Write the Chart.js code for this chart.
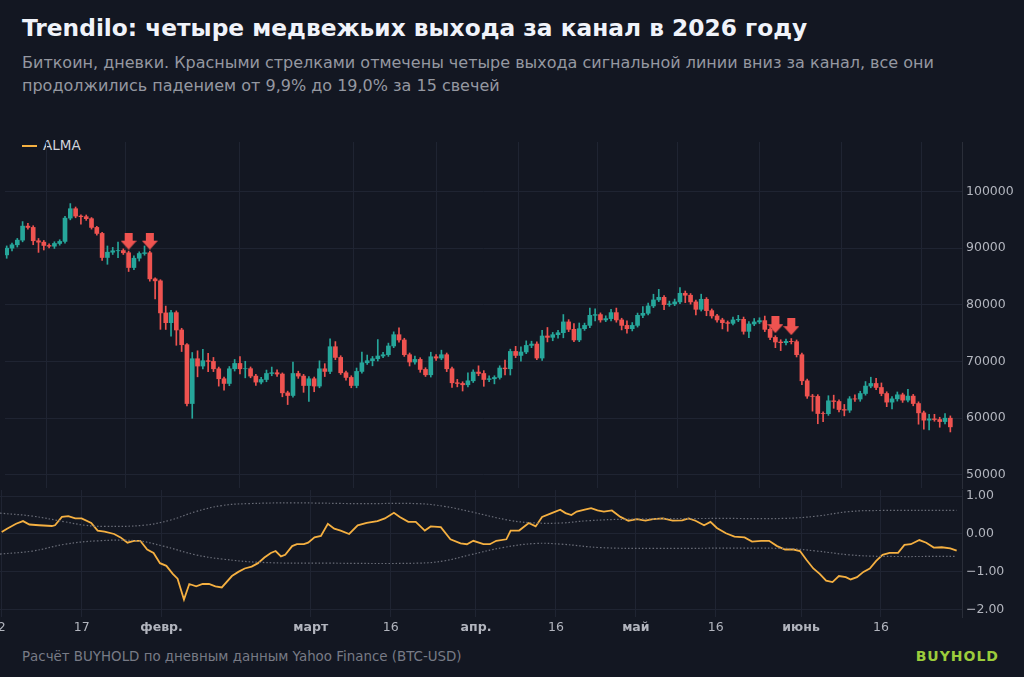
<!DOCTYPE html>
<html><head><meta charset="utf-8">
<script src="https://cdn.jsdelivr.net/npm/chart.js@4.4.1/dist/chart.umd.min.js"></script>
<style>
html,body{margin:0;padding:0;background:#131722;width:1024px;height:677px;overflow:hidden;font-family:"DejaVu Sans",sans-serif;}
#title{position:absolute;left:22px;top:14px;color:#f0f3fa;font-size:23.3px;font-weight:bold;}
#sub{position:absolute;left:22px;top:51px;color:#9598a1;font-size:16px;line-height:23px;width:995px;}
#legend{position:absolute;left:22px;top:137px;color:#d1d4dc;font-size:13.5px;}
#legend span{display:inline-block;width:15px;height:2px;background:#f5b041;vertical-align:middle;margin-right:6px;}
#foot{position:absolute;left:22px;top:649px;color:#787b86;font-size:13.4px;}
#brand{position:absolute;right:25px;top:648px;color:#9ccc3c;font-size:14px;font-weight:bold;letter-spacing:1px;}
canvas{position:absolute;left:0;}
</style></head><body>
<div id="title">Trendilo: четыре медвежьих выхода за канал в 2026 году</div>
<div id="sub">Биткоин, дневки. Красными стрелками отмечены четыре выхода сигнальной линии вниз за канал, все они продолжились падением от 9,9% до 19,0% за 15 свечей</div>
<div id="legend"><span></span>ALMA</div>
<div style="position:absolute;left:0;top:137px;width:1024px;height:356px"><canvas id="c1"></canvas></div>
<div style="position:absolute;left:0;top:490px;width:1024px;height:148px"><canvas id="c2"></canvas></div>
<div id="foot">Расчёт BUYHOLD по дневным данным Yahoo Finance (BTC-USD)</div>
<div id="brand">BUYHOLD</div>
<script>
// candle index 1 = 2 Jan 2026
const firstOpen = 88800;
const closes = [
89980,90580,91400,93870,93640,91290,91040,90460,90330,90810,
91170,95280,96940,95640,95530,95180,93640,92580,88340,89270,
89520,89560,89170,86570,88210,89040,89170,84570,84220,78570,
76850,78620,75560,72960,62590,70490,69200,70140,70020,68720,
66960,66130,68720,69660,68720,68740,67430,66370,66830,67890,
68020,67790,64480,64010,67890,67430,65770,66960,65670,68720,
68250,72610,70720,68020,67190,65770,68250,69780,70140,70490,
70970,71200,72740,74730,73800,71200,69910,70370,68600,67660,
70840,70610,71200,68720,66250,66130,65900,66600,68140,67890,
66830,66960,67190,68850,68720,71780,71070,71680,72840,73080,
70610,74500,74260,74730,75080,76980,75670,73800,75790,76370,
78140,78270,77330,77560,78620,77330,76370,75790,76370,78140,
78500,79800,80860,81320,80030,80150,80510,82030,81680,80510,
79200,80970,78970,78040,77330,76850,76730,77330,77440,75320,
76620,76980,77210,75670,74250,73440,73320,73550,73500,71200,
66600,63900,63850,60830,60800,63070,62950,61530,61420,63420,
63380,64360,65670,66130,65420,64360,62840,63420,64130,63190,
63900,62590,60950,59660,59890,59770,59410,60010,58480];
// wick lengths above / below the body, in hundreds of USD
const wickUp = [
4,3,3,8,5,3,4,3,3,3, 3,3,9,3,2,3,2,2,2,11, 6,15,3,3,4,3,12,3,2,2,
12,4,3,3,2,11,14,20,13,7, 3,3,4,7,12,13,3,3,4,6, 10,5,2,3,20,4,3,4,3,14,
9,14,9,3,3,3,6,19,10,4, 29,4,5,5,12,3,3,6,3,3, 8,4,8,3,3,6,3,14,4,11,
5,5,3,4,14,4,9,9,8,5, 4,10,15,4,4,13,4,10,10,4, 13,10,3,5,6,8,3,8,5,4,
12,5,10,14,3,5,5,10,4,3, 3,9,3,3,3,3,3,5,7,4, 4,6,5,8,3,3,4,4,5,3,
3,3,3,3,3,9,10,3,9,4, 7,4,8,11,9,8,3,4,5,3, 12,3,3,3,8,8,4,8,4];
const wickDn = [
6,5,4,3,3,7,18,8,3,4, 3,3,3,3,13,3,3,3,5,12, 4,12,3,7,4,5,3,4,32,29,
12,24,27,12,4,26,19,5,18,5, 13,12,4,4,9,16,3,6,3,4, 4,4,7,16,3,4,12,28,10,3,
9,4,4,3,5,4,4,3,3,9, 4,3,3,3,4,3,7,4,5,3, 4,4,3,5,8,6,11,4,3,4,
12,4,9,3,11,11,4,10,3,4, 3,4,8,6,6,9,4,3,3,3, 4,10,4,3,4,4,8,8,4,3,
4,3,3,3,9,3,3,3,13,4, 10,3,9,4,4,11,14,3,3,5, 11,3,3,4,4,10,14,4,4,4,
7,4,26,18,14,3,12,4,10,4, 4,4,3,3,4,4,8,12,4,4, 3,4,20,16,17,3,10,4,9];
const arrowIdx = [24, 28, 146, 149];
const arrowPrice = [91220, 91220, 76500, 76150];

const almaX = [1,2,3.7,5,6.2,8,10.4,11,12.3,13.5,14.8,16,17.8,19,20.3,22.1,23.3,24.6,25.8,27,28.3,29.5,30.7,31.9,33.1,34,35.2,36.2,37.5,38.7,39.9,41.1,42.3,44.2,45.4,46.6,47.9,49.1,50.3,51.5,52.4,53.4,54.2,55.5,56.4,57.7,58.5,59.7,60.9,62.2,63.4,64.6,66.2,67.8,69.5,71.5,72.9,74.6,75.7,77.3,78.7,80.4,81.5,83.4,85.2,87.1,88.3,89.5,91.4,92.6,93.8,95.7,96.5,98.1,99.9,101.2,102.4,104.2,105.8,106.8,107.9,108.9,110.4,111.6,112.8,114,115.5,117.1,118.6,120.2,121.8,123.2,125.1,126.9,128.7,129.9,131.2,132.8,134,135.2,136.9,138.5,140.4,141.8,143.5,145,146.5,148,149.6,150.8,152,153.3,154.5,155.7,156.9,158.1,159.4,160.3,161.5,162.7,163.9,165.1,166.3,167.6,169.2,170.4,171.6,173.2,174.5,175.9,177.4,179,180.2];
const almaY = [0.05,0.14,0.27,0.34,0.25,0.23,0.21,0.23,0.45,0.47,0.41,0.41,0.29,0.09,0.06,0,-0.09,-0.23,-0.18,-0.18,-0.41,-0.5,-0.77,-0.84,-1.05,-1.18,-1.73,-1.32,-1.38,-1.32,-1.32,-1.38,-1.41,-1.11,-1.0,-0.91,-0.86,-0.77,-0.62,-0.5,-0.45,-0.59,-0.55,-0.32,-0.27,-0.27,-0.23,-0.09,-0.05,0.27,0.14,0.09,0,0.23,0.29,0.34,0.41,0.56,0.45,0.32,0.32,0.09,0.2,0.18,-0.14,-0.25,-0.27,-0.18,-0.27,-0.27,-0.18,-0.14,0.09,0.09,0.29,0.2,0.45,0.55,0.64,0.55,0.5,0.59,0.64,0.68,0.62,0.59,0.62,0.45,0.35,0.39,0.35,0.39,0.41,0.35,0.36,0.41,0.35,0.23,0.32,0.16,0.02,-0.07,-0.09,-0.2,-0.18,-0.18,-0.32,-0.41,-0.41,-0.45,-0.68,-0.91,-1.05,-1.23,-1.27,-1.11,-1.14,-1.2,-1.14,-1.0,-0.91,-0.71,-0.55,-0.5,-0.5,-0.29,-0.27,-0.16,-0.23,-0.36,-0.35,-0.38,-0.44];
const upX = [0.68,6.8,12.9,16.6,20.3,27.6,32.5,37.4,42.3,47.2,55.8,68.1,79.1,84,88.9,96.3,101.2,106.1,111,118.3,135.5,147.7,153.9,160,166.1,180.2];
const upY = [0.55,0.47,0.32,0.23,0.2,0.23,0.36,0.59,0.75,0.8,0.82,0.8,0.8,0.73,0.59,0.36,0.29,0.29,0.35,0.39,0.41,0.41,0.47,0.59,0.62,0.62];
const loX = [0.68,6.8,12.9,19.1,26.4,31.3,37.4,42.3,49.7,62,79.1,84,88.9,95,101.2,106.1,113.4,123.2,147.7,153.9,160,166.1,180.2];
const loY = [-0.53,-0.45,-0.27,-0.18,-0.18,-0.32,-0.55,-0.66,-0.75,-0.77,-0.77,-0.71,-0.55,-0.36,-0.25,-0.27,-0.36,-0.38,-0.38,-0.45,-0.55,-0.59,-0.59];
const tickPos = [1,16,31,59,74,90,105,120,135,151,166];
const tickLabels = ['2','17','февр.','март','16','апр.','16','май','16','июнь','16'];

const UP='#26a69a', DN='#ef5350', GRID='#1f2432', TXT='#b2b5be';
const opens = closes.map((c,i)=> i===0 ? firstOpen : closes[i-1]);
const bodies=[], wicks=[], cols=[];
closes.forEach((c,i)=>{
  const o=opens[i], x=i+1;
  bodies.push({x, y:[o,c]});
  wicks.push({x, y:[Math.min(o,c)-wickDn[i]*100, Math.max(o,c)+wickUp[i]*100]});
  cols.push(c>=o?UP:DN);
});
const arrow=document.createElement('canvas'); arrow.width=16; arrow.height=17;
{const g=arrow.getContext('2d'); g.fillStyle=DN; g.fillRect(4,0,8,9); g.beginPath(); g.moveTo(0,8); g.lineTo(16,8); g.lineTo(8,17); g.closePath(); g.fill();}

const xMin=0.68, xMax=181.2;
const noPadX = s=>{s.paddingLeft=0;s.paddingRight=0;};
function xScale(show){
  return {type:'linear',min:xMin,max:xMax,offset:false,afterFit:noPadX,
    afterBuildTicks:s=>{s.ticks=tickPos.map(v=>({value:v}));},
    grid:{color:GRID,drawTicks:false},border:{display:false},
    ticks:{display:show,color:TXT,padding:3,maxRotation:0,autoSkip:false,
      callback:(v)=>tickLabels[tickPos.indexOf(v)],
      font:(ctx)=>{const l=tickLabels[tickPos.indexOf(ctx.tick&&ctx.tick.value)]||''; return {family:'DejaVu Sans',size:12.5,weight:/[а-я]/.test(l)?'bold':'normal'};}}};
}
const fixW = s=>{s.width=62;s.paddingTop=0;s.paddingBottom=0;};
Chart.defaults.animation=false;
new Chart(document.getElementById('c1'),{
  data:{datasets:[
    {type:'bar',data:wicks,backgroundColor:cols,barThickness:1,grouped:false,order:2},
    {type:'bar',data:bodies,backgroundColor:cols,barThickness:4,grouped:false,order:1},
    {type:'scatter',data:arrowIdx.map((x,i)=>({x,y:arrowPrice[i]})),pointStyle:arrow,order:0}
  ]},
  options:{responsive:true,maintainAspectRatio:false,layout:{padding:0},
    plugins:{legend:{display:false},tooltip:{enabled:false}},
    scales:{x:xScale(false),
      y:{position:'right',min:47700,max:108700,afterFit:fixW,
        afterBuildTicks:s=>{s.ticks=[50000,60000,70000,80000,90000,100000].map(v=>({value:v}));},
        grid:{color:GRID,drawTicks:false},border:{color:'#2a2e39'},
        ticks:{color:TXT,padding:4,font:{family:'DejaVu Sans',size:12.5},callback:v=>String(v)}}}}
});
new Chart(document.getElementById('c2'),{
  type:'line',
  data:{datasets:[
    {data:upX.map((x,i)=>({x,y:upY[i]})),borderColor:'#6a6d78',borderWidth:1.2,borderDash:[1.5,2],pointRadius:0,tension:0.4},
    {data:loX.map((x,i)=>({x,y:loY[i]})),borderColor:'#6a6d78',borderWidth:1.2,borderDash:[1.5,2],pointRadius:0,tension:0.4},
    {data:almaX.map((x,i)=>({x,y:almaY[i]})),borderColor:'#f5b041',borderWidth:1.8,pointRadius:0,tension:0}
  ]},
  options:{responsive:true,maintainAspectRatio:false,layout:{padding:0},
    plugins:{legend:{display:false},tooltip:{enabled:false}},
    scales:{x:xScale(true),
      y:{position:'right',min:-2.19,max:1.16,afterFit:fixW,
        afterBuildTicks:s=>{s.ticks=[-2,-1,0,1].map(v=>({value:v}));},
        grid:{color:GRID,drawTicks:false},border:{color:'#2a2e39'},
        ticks:{color:TXT,padding:4,font:{family:'DejaVu Sans',size:12.5},callback:v=>v.toFixed(2).replace('-','\u2212')}}}}
});
</script></body></html>
